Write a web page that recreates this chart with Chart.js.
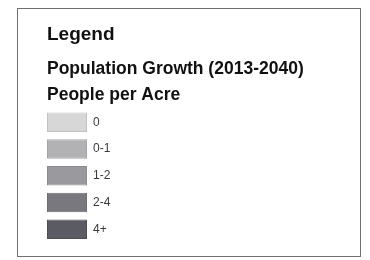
<!DOCTYPE html>
<html>
<head>
<meta charset="utf-8">
<script src="https://cdn.jsdelivr.net/npm/chart.js@4"></script>
<style>
  html, body { margin: 0; padding: 0; background: #fff; }
  #wrap { position: relative; width: 370px; height: 260px; }
  #frame {
    position: absolute; left: 17px; top: 8px; width: 344px; height: 249px;
    box-sizing: border-box; border: 1px solid #707070;
  }
  #legendChart { position: absolute; left: 0; top: 0; }
</style>
</head>
<body>
<div id="wrap">
  <div id="frame"></div>
  <canvas id="legendChart" width="370" height="260"></canvas>
</div>
<script>
'use strict';

// legend classes (people per acre)
const categories = ['0', '0-1', '1-2', '2-4', '4+'];
// every swatch is one unit wide
const swatchValues = [1, 1, 1, 1, 1];
const swatchColors = ['#d7d7d7', '#b2b2b5', '#9a9a9e', '#78787e', '#5b5b63'];
const swatchBorders = ['#c2c2c2', '#a4a4a8', '#8c8c90', '#6c6c72', '#4e4e56'];

const ctx = document.getElementById('legendChart').getContext('2d');

const legendChart = new Chart(ctx, {
  type: 'bar',
  data: {
    labels: categories,
    datasets: [{
      data: swatchValues,
      backgroundColor: swatchColors,
      borderColor: swatchBorders,
      borderWidth: 1,
      borderSkipped: false,
      categoryPercentage: 1,
      barPercentage: 0.73
    }]
  },
  options: {
    indexAxis: 'y',
    responsive: false,
    animation: false,
    layout: {
      padding: { left: 47, right: 8, top: 0, bottom: 17.4 }
    },
    scales: {
      x: { display: false, min: 0, max: 1 },
      y: {
        position: 'right',
        grid: { display: false, drawTicks: false, tickLength: 0 },
        border: { display: false },
        ticks: {
          color: '#3a3a3a',
          padding: 6,
          font: { family: 'Liberation Sans, Arial, sans-serif', size: 12 }
        },
        afterFit: (scale) => { scale.width = 275; }
      }
    },
    plugins: {
      legend: { display: false },
      tooltip: { enabled: false },
      title: {
        display: true,
        text: 'Legend',
        align: 'start',
        color: '#111',
        font: { family: 'Liberation Sans, Arial, sans-serif', size: 19, weight: 'bold', lineHeight: 1.2 },
        padding: { top: 23.8, bottom: 0 }
      },
      subtitle: {
        display: true,
        text: ['Population Growth (2013-2040)', 'People per Acre'],
        align: 'start',
        color: '#111',
        font: { family: 'Liberation Sans, Arial, sans-serif', size: 17.5, weight: 'bold', lineHeight: 1.47 },
        padding: { top: 9.6, bottom: 1.3 }
      }
    }
  }
});
</script>
</body>
</html>
